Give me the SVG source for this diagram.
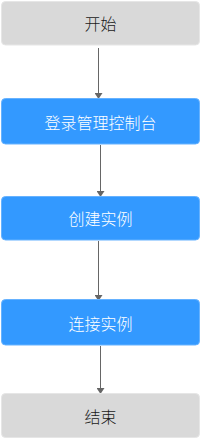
<svg xmlns="http://www.w3.org/2000/svg" width="205" height="439" viewBox="0 0 205 439">
<style>
.gray{fill:#d9d9d9;stroke:#e6e6e6;stroke-width:1}
.blue{fill:#3399ff;stroke:#66b2ff;stroke-width:1}
.t{font-family:"Noto Sans CJK SC","Microsoft YaHei",sans-serif;font-size:16px;font-weight:300;text-anchor:middle;dominant-baseline:central}
.dark{fill:#1a1a1a}
.light{fill:#ffffff}
.c{stroke:#666666;stroke-width:1;fill:none;marker-end:url(#ah)}
</style>
<defs>
<marker id="ah" markerWidth="6" markerHeight="8" refX="5" refY="4" orient="auto" markerUnits="userSpaceOnUse">
<path d="M0,0 L6,4 L0,8 Z" fill="#666666"/>
</marker>
</defs>
<g id="connectors">
<line class="c" x1="98.5" y1="48" x2="98.5" y2="98"/>
<line class="c" x1="100.5" y1="145" x2="100.5" y2="196"/>
<line class="c" x1="98.5" y1="241" x2="98.5" y2="300"/>
<line class="c" x1="100.5" y1="346" x2="100.5" y2="393"/>
</g>
<g id="start"><rect class="gray" x="1.5" y="1.5" width="198" height="43.5" rx="4"/><text class="t dark" x="100.5" y="23">开始</text></g>
<g id="login"><rect class="blue" x="1.5" y="98.5" width="198" height="45.5" rx="4"/><text class="t light" x="100.5" y="122">登录管理控制台</text></g>
<g id="create"><rect class="blue" x="1.5" y="196.5" width="198" height="43.5" rx="4"/><text class="t light" x="100.5" y="218">创建实例</text></g>
<g id="connect"><rect class="blue" x="1.5" y="299.5" width="198" height="45.5" rx="4"/><text class="t light" x="100.5" y="323">连接实例</text></g>
<g id="end"><rect class="gray" x="1.5" y="393.5" width="198" height="44" rx="4"/><text class="t dark" x="100.5" y="415.5">结束</text></g>
</svg>
